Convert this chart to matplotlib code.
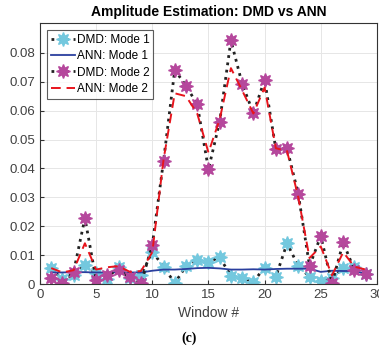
import matplotlib
matplotlib.use("Agg")
import matplotlib.pyplot as plt
import numpy as np

plt.rcParams['font.family'] = ['Liberation Sans', 'DejaVu Sans']

windows = list(range(1, 30))
dmd_mode1 = [0.0054, 0.0016, 0.0030, 0.0066, 0.0037, 0.0016, 0.0058, 0.0020, 0.0030, 0.0112,
             0.0060, 0.0003, 0.0062, 0.0083, 0.0077, 0.0092, 0.0029, 0.0020, 0.0008, 0.0057,
             0.0025, 0.0141, 0.0062, 0.0025, 0.0012, 0.0020, 0.0057, 0.0060, 0.0035]
ann_mode1 = [0.0040, 0.0040, 0.0041, 0.0041, 0.0040, 0.0040, 0.0041, 0.0040, 0.0040, 0.0046,
             0.0050, 0.0050, 0.0052, 0.0055, 0.0056, 0.0054, 0.0050, 0.0050, 0.0051, 0.0050,
             0.0052, 0.0053, 0.0053, 0.0053, 0.0042, 0.0046, 0.0045, 0.0045, 0.0036]
dmd_mode2 = [0.0020, 0.0003, 0.0043, 0.0228, 0.0014, 0.0031, 0.0048, 0.0023, 0.0003, 0.0135,
             0.0426, 0.0741, 0.0686, 0.0622, 0.0397, 0.0562, 0.0843, 0.0693, 0.0591, 0.0707,
             0.0467, 0.0469, 0.0311, 0.0062, 0.0166, 0.0002, 0.0144, 0.0048, 0.0034]
ann_mode2 = [0.0055, 0.0040, 0.0048, 0.0141, 0.0050, 0.0058, 0.0062, 0.0042, 0.0045, 0.0110,
             0.0430, 0.0660, 0.0650, 0.0590, 0.0455, 0.0570, 0.0747, 0.0670, 0.0590, 0.0680,
             0.0470, 0.0460, 0.0300, 0.0090, 0.0130, 0.0030, 0.0110, 0.0060, 0.0050]

fig = plt.figure(figsize=(3.79, 3.56), dpi=100)
ax = fig.add_axes([0.1055, 0.2022, 0.889, 0.733])

cyan = '#73c8de'
mag = '#b5479c'
star = (8, 1, 0)

ax.plot(windows, dmd_mode1, ':', color='#222222', lw=2.0, marker=star, ms=10, mew=1.0,
        mfc=cyan, mec=cyan, label='DMD: Mode 1')
ax.plot(windows, ann_mode1, '-', color='#2a3f9e', lw=1.3, label='ANN: Mode 1')
ax.plot(windows, dmd_mode2, ':', color='#222222', lw=2.0, marker=star, ms=10, mew=1.0,
        mfc=mag, mec=mag, label='DMD: Mode 2')
ax.plot(windows, ann_mode2, '--', color='#e8141c', lw=1.4, dashes=(5, 3), label='ANN: Mode 2')

ax.set_xlim(0, 30)
ax.set_ylim(0, 0.0903)
ax.set_xticks([0, 5, 10, 15, 20, 25, 30])
ax.set_yticks([0, 0.01, 0.02, 0.03, 0.04, 0.05, 0.06, 0.07, 0.08])
ax.set_yticklabels(['0', '0.01', '0.02', '0.03', '0.04', '0.05', '0.06', '0.07', '0.08'])
ax.grid(True, color='#e6e6e6', lw=0.7)
ax.set_axisbelow(True)
for s in ax.spines.values():
    s.set_color('#333333')
    s.set_linewidth(0.8)
ax.tick_params(colors='#333333', labelsize=9.5, direction='in', length=3, labelcolor='#404040')

ax.set_title('Amplitude Estimation: DMD vs ANN', fontsize=10, fontweight='bold', pad=5)
ax.set_xlabel('Window #', fontsize=10, color='#404040', labelpad=4)

leg = ax.legend(loc='upper left', fontsize=8.5, frameon=True, fancybox=False,
                edgecolor='#333333', handlelength=2.0, handletextpad=0.15,
                borderpad=0.35, labelspacing=0.35, borderaxespad=0.6)
leg.get_frame().set_linewidth(0.8)

fig.text(0.5, 0.05, '(c)', ha='center', va='center', fontsize=10, fontweight='bold',
         family='Liberation Serif')

fig.savefig('out.png', dpi=100)
